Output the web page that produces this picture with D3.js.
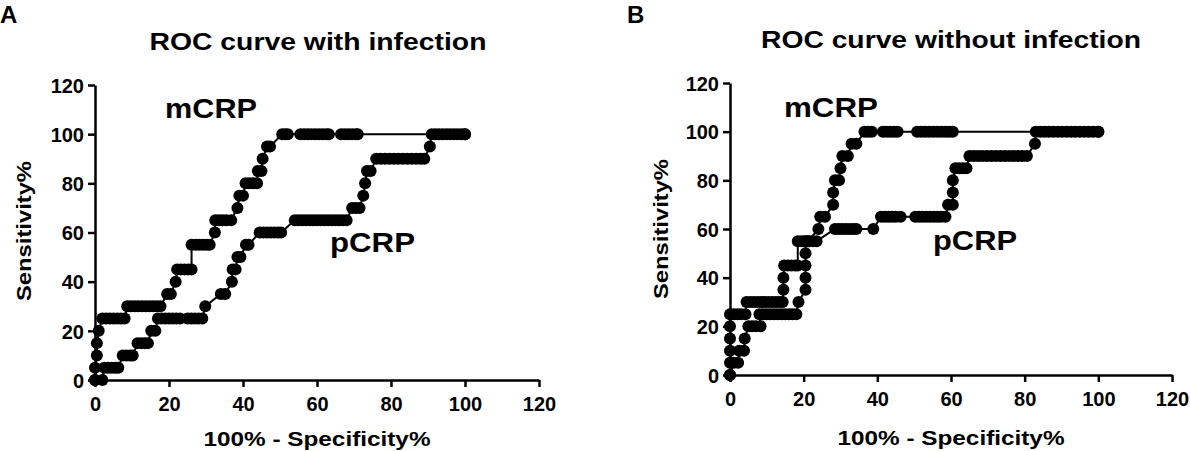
<!DOCTYPE html>
<html>
<head>
<meta charset="utf-8">
<script src="https://cdn.jsdelivr.net/npm/d3@7"></script>
<style>
  body { margin: 0; background: #fff; }
  svg { display: block; }
  text { font-family: "Liberation Sans", Arial, sans-serif; font-weight: bold; fill: #000; }
</style>
</head>
<body>
<div id="chart"></div>
<script>
// ── DATA ───────────────────────────────────────────────────────
const panelLetters = ["A", "B"];
const panelTitles  = ["ROC curve with infection", "ROC curve without infection"];
const seriesNames  = ["mCRP", "pCRP"];
const xTitle = "100% - Specificity%";
const yTitle = "Sensitivity%";
const xTicks = [0, 20, 40, 60, 80, 100, 120];
const yTicks = [0, 20, 40, 60, 80, 100, 120];

// panel A, [100% - specificity, sensitivity]
const mcrpA = [
  [0,0],[0,5],[0.5,10],[0.5,15],[1,20],
  [2,25],[3,25],[4,25],[5,25],[6,25],[7,25],[8,25],
  [8.7,30],[9.7,30],[10.7,30],[11.7,30],[12.7,30],[13.7,30],[14.7,30],[15.7,30],[16.7,30],[17.7,30],
  [19.5,35],[20.5,35],[21.8,40],
  [22.2,45],[23.2,45],[24.2,45],[25.2,45],[26.1,45],
  [26.1,55],[27.2,55],[28.2,55],[29.2,55],[30.2,55],[31,55],
  [32.4,60],
  [32.5,65],[33.5,65],[34.5,65],[35.5,65],[36.8,65],
  [38.5,70],[39,75],[40,75],
  [40.7,80],[41.7,80],[42.7,80],[43.8,80],
  [44,85],[45,85],[45.3,90],[46.5,95],[47.3,95],
  [50.6,100],[51.4,100],[52.1,100],
  [55.5,100],[56.5,100],[57.5,100],[58.5,100],[59.5,100],[60.5,100],[61.5,100],[62.5,100],[63.2,100],
  [66.5,100],[67.5,100],[68.5,100],[69.5,100],[70.5,100],[71,100],
  [100,100]
];
const pcrpA = [
  [0,0],[2,0],
  [2.5,5],[3.5,5],[4.5,5],[5.5,5],[6.3,5],
  [7.5,10],[8.5,10],[9.5,10],[10.2,10],
  [11.5,15],[12.5,15],[13.5,15],[14.3,15],
  [15.2,20],[16.3,20],
  [17,25],[18,25],[19,25],[20,25],[21,25],[22,25],[23,25],[25,25],[26,25],[27,25],[28,25],[29,25],
  [29.8,30],[34,35],[35.2,35],[37,40],[37.2,45],[38,45],[38.5,50],[39.3,50],[40.8,55],[41.5,55],
  [44.5,60],[45.5,60],[46.5,60],[47.5,60],[48.5,60],[49.5,60],[50.3,60],
  [54,65],[55,65],[56,65],[57,65],[58,65],[59,65],[60,65],[61,65],[62,65],[63,65],[64,65],[65,65],[66,65],[67,65],[68,65],
  [69.5,70],[70.5,70],[71.5,70],[72.5,75],[73,80],[73.5,85],[74.5,85],
  [76,90],[77.2,90],[78.4,90],[79.6,90],[80.8,90],[82,90],[83.2,90],[84.4,90],[85.6,90],[86.8,90],[88,90],[89,90],
  [90.5,95],
  [91,100],[92,100],[93,100],[94,100],[95,100],[96,100],[97,100],[98,100],[99,100],[100,100]
];

// panel B
const mcrpB = [
  [0,0],[0,5],[0,10],[0,15],[0,20],[0,25],
  [1,25],[2,25],[3,25],[4.2,25],
  [4.5,30],[5.5,30],[6.5,30],[7.5,30],[8.5,30],[9.5,30],[10.5,30],[11.5,30],[12.5,30],[13.5,30],[14.3,30],
  [14.5,35],[14.5,40],
  [14.7,45],[15.7,45],[16.7,45],[17.7,45],[18.4,45],
  [18.4,55],[19.4,55],[20.4,55],[21.2,55],
  [24,60],[24.5,65],[25.8,65],[28,70],[28,75],[28.5,80],[29.6,80],[30,85],[30.5,90],[32,90],[33,95],[34.3,95],
  [36.5,100],[37.5,100],[38.5,100],
  [41.5,100],[42.5,100],[43.5,100],[44.5,100],[45.5,100],
  [50.8,100],[51.9,100],[53,100],[54.1,100],[55.2,100],[56.3,100],[57.4,100],[58.5,100],[59.5,100],[60.5,100],
  [100,100]
];
const pcrpB = [
  [0,0],[1,5],[2.2,5],[2.5,10],[3.8,10],[4,15],
  [5,20],[6,20],[7,20],[8.3,20],
  [8,25],[9,25],[10,25],[11,25],[12,25],[13,25],[14,25],[15,25],[16,25],[17,25],[18,25],
  [18.6,30],[20.5,35],[20.5,40],[20.5,45],[20.5,50],
  [20.5,55],[21.5,55],[22.5,55],[23.5,55],
  [28.5,60],[29.5,60],[30.5,60],[31.5,60],[32.5,60],[33.5,60],[34.3,60],[38.9,60],
  [41,65],[42,65],[43,65],[44,65],[45,65],[46.3,65],
  [50.3,65],[51.3,65],[52.3,65],[53.3,65],[54.3,65],[55.3,65],[56.3,65],[57.3,65],[58.5,65],
  [59.2,70],[60.5,70],[60.5,75],[60.5,80],
  [61.2,85],[62.2,85],[63.2,85],[64.2,85],
  [65,90],[66.2,90],[67.4,90],[68.6,90],[69.8,90],[71,90],[72.2,90],[73.4,90],[74.6,90],[75.8,90],[77,90],[78.2,90],[79.4,90],[80.6,90],
  [82.8,95],
  [83,100],[84.2,100],[85.4,100],[86.6,100],[87.8,100],[89,100],[90.2,100],[91.4,100],[92.6,100],[93.8,100],[95,100],[96.2,100],[97.4,100],[98.6,100],[100,100]
];

// ── LAYOUT ─────────────────────────────────────────────────────
const W = 1190, H = 451;
const panels = [
  { x0: 95,  x1: 539,  y0: 380, y1: 85,
    letter: { x: 0, y: 23 }, title: { x: 318, y: 50, len: 337 },
    series: [mcrpA, pcrpA],
    labels: [{ x: 165, y: 118, len: 92 }, { x: 330, y: 252, len: 85 }],
    xTitle: { y: 446 }, yTitle: { x: 31, y: 231 } },
  { x0: 730, x1: 1172, y0: 375, y1: 83,
    letter: { x: 627, y: 23 }, title: { x: 951, y: 48, len: 380 },
    series: [mcrpB, pcrpB],
    labels: [{ x: 784, y: 117, len: 94 }, { x: 933, y: 250, len: 84 }],
    xTitle: { y: 445 }, yTitle: { x: 668, y: 229 } }
];

const svg = d3.select("#chart").append("svg")
  .attr("width", W).attr("height", H);

panels.forEach((p, i) => {
  const x = d3.scaleLinear().domain([0, 120]).range([p.x0, p.x1]);
  const y = d3.scaleLinear().domain([0, 120]).range([p.y0, p.y1]);
  const g = svg.append("g");

  // axes, Prism style: thick lines, outward ticks
  const xAxis = g.append("g")
    .attr("transform", `translate(0,${p.y0})`)
    .call(d3.axisBottom(x).tickValues(xTicks).tickSize(7).tickSizeOuter(0).tickPadding(10));
  const yAxis = g.append("g")
    .attr("transform", `translate(${p.x0},0)`)
    .call(d3.axisLeft(y).tickValues(yTicks).tickSize(7).tickSizeOuter(0).tickPadding(4));

  [xAxis, yAxis].forEach(a => {
    a.select(".domain").attr("stroke", "#000").attr("stroke-width", 2.5);
    a.selectAll(".tick line").attr("stroke", "#000").attr("stroke-width", 2.5);
    a.selectAll(".tick text")
      .attr("font-size", 20)
      .attr("font-family", "Liberation Sans, Arial, sans-serif")
      .attr("font-weight", "bold")
      .attr("fill", "#000");
  });
  yAxis.selectAll(".tick text").attr("dy", "0.36em");

  // curves
  const line = d3.line().x(d => x(d[0])).y(d => y(d[1]));
  p.series.forEach(s => {
    g.append("path")
      .datum(s)
      .attr("d", line)
      .attr("fill", "none")
      .attr("stroke", "#000")
      .attr("stroke-width", 2);
    g.selectAll(null)
      .data(s)
      .join("circle")
        .attr("cx", d => x(d[0]))
        .attr("cy", d => y(d[1]))
        .attr("r", 6)
        .attr("fill", "#000");
  });

  // texts
  g.append("text")
    .attr("x", p.letter.x).attr("y", p.letter.y)
    .attr("font-size", 24)
    .text(panelLetters[i]);

  g.append("text")
    .attr("x", p.title.x).attr("y", p.title.y)
    .attr("text-anchor", "middle")
    .attr("font-size", 24)
    .attr("textLength", p.title.len)
    .attr("lengthAdjust", "spacingAndGlyphs")
    .text(panelTitles[i]);

  p.labels.forEach((l, k) => {
    g.append("text")
      .attr("x", l.x).attr("y", l.y)
      .attr("font-size", 28)
      .attr("textLength", l.len)
      .attr("lengthAdjust", "spacingAndGlyphs")
      .text(seriesNames[k]);
  });

  g.append("text")
    .attr("x", x(60)).attr("y", p.xTitle.y)
    .attr("text-anchor", "middle")
    .attr("font-size", 21)
    .attr("textLength", 227)
    .attr("lengthAdjust", "spacingAndGlyphs")
    .text(xTitle);

  g.append("text")
    .attr("transform", `translate(${p.yTitle.x},${p.yTitle.y}) rotate(-90)`)
    .attr("text-anchor", "middle")
    .attr("font-size", 21)
    .attr("textLength", 140)
    .attr("lengthAdjust", "spacingAndGlyphs")
    .text(yTitle);
});
</script>
</body>
</html>
